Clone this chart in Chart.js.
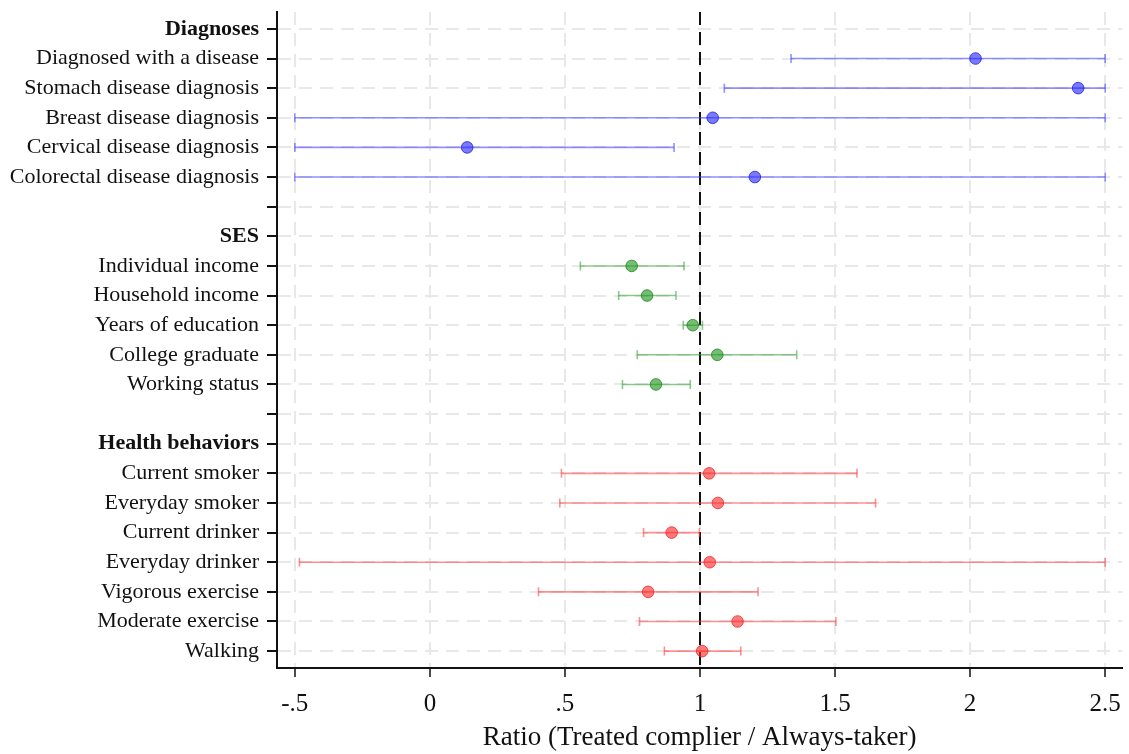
<!DOCTYPE html>
<html>
<head>
<meta charset="utf-8">
<title>Ratio forest plot</title>
<script src="https://cdn.jsdelivr.net/npm/chart.js@4.4.1/dist/chart.umd.min.js"></script>
<style>
  html, body { margin: 0; padding: 0; background: #fff; }
  #box { position: relative; width: 1129px; height: 754px; }
</style>
</head>
<body>
<div id="box"><canvas id="graficoRatio"></canvas></div>
<script>
// ==========================
// DATA
// ==========================
const diagLabels = [
  "Diagnosed with a disease",
  "Stomach disease diagnosis",
  "Breast disease diagnosis",
  "Cervical disease diagnosis",
  "Colorectal disease diagnosis",
];
const diagEst = [2.02, 2.40, 1.047, 0.138, 1.203];
const diagLo = [1.337, 1.09, -0.5, -0.5, -0.5];
const diagHi = [2.5, 2.5, 2.5, 0.904, 2.5];

const sesLabels = [
  "Individual income",
  "Household income",
  "Years of education",
  "College graduate",
  "Working status",
];
const sesEst = [0.747, 0.804, 0.973, 1.064, 0.837];
const sesLo = [0.557, 0.699, 0.938, 0.768, 0.713];
const sesHi = [0.941, 0.911, 1.009, 1.358, 0.964];

const healthLabels = [
  "Current smoker",
  "Everyday smoker",
  "Current drinker",
  "Everyday drinker",
  "Vigorous exercise",
  "Moderate exercise",
  "Walking",
];
const healthEst = [1.034, 1.066, 0.895, 1.036, 0.808, 1.139, 1.008];
const healthLo = [0.487, 0.481, 0.791, -0.483, 0.402, 0.776, 0.868];
const healthHi = [1.581, 1.65, 0.998, 2.5, 1.215, 1.503, 1.151];

const headerLabels = ["Diagnoses", "SES", "Health behaviors"];
const rowLabels = [
  "Diagnoses", ...diagLabels, "",
  "SES", ...sesLabels, "",
  "Health behaviors", ...healthLabels,
];

const xTicks = [-0.5, 0, 0.5, 1, 1.5, 2, 2.5];
const xTickLabels = ["-.5", "0", ".5", "1", "1.5", "2", "2.5"];
const refValue = 1;

// ==========================
// HELPERS
// ==========================
const FONT = "'Liberation Serif', 'Times New Roman', serif";
const Y_MIN = -0.57;
const Y_MAX = rowLabels.length - 1 + 0.57;

function montarGrupo(labels, est, lo, hi, cores) {
  const sets = [];
  labels.forEach((nome, i) => {
    const y = rowLabels.indexOf(nome);
    sets.push({
      type: "scatter",
      data: [{ x: lo[i], y }, { x: hi[i], y }],
      showLine: true,
      borderColor: cores.linha,
      borderWidth: 1.6,
      pointStyle: "line",
      rotation: 90,
      pointRadius: 4.5,
      pointBorderColor: cores.linha,
      pointBorderWidth: 1.6,
      order: 2,
    });
  });
  sets.push({
    type: "scatter",
    data: labels.map((nome, i) => ({ x: est[i], y: rowLabels.indexOf(nome) })),
    pointStyle: "circle",
    pointRadius: 5.8,
    backgroundColor: cores.ponto,
    borderColor: cores.borda,
    borderWidth: 1,
    order: 1,
  });
  return sets;
}

const datasets = [
  {
    type: "scatter",
    data: [{ x: refValue, y: Y_MIN }, { x: refValue, y: Y_MAX }],
    showLine: true,
    borderColor: "#111",
    borderWidth: 2,
    borderDash: [13, 7],
    pointRadius: 0,
    order: 3,
  },
  ...montarGrupo(diagLabels, diagEst, diagLo, diagHi, {
    linha: "rgba(70, 70, 255, 0.6)",
    ponto: "rgba(40, 40, 255, 0.62)",
    borda: "rgba(30, 30, 220, 0.8)",
  }),
  ...montarGrupo(sesLabels, sesEst, sesLo, sesHi, {
    linha: "rgba(60, 165, 60, 0.6)",
    ponto: "rgba(30, 150, 30, 0.62)",
    borda: "rgba(30, 130, 30, 0.8)",
  }),
  ...montarGrupo(healthLabels, healthEst, healthLo, healthHi, {
    linha: "rgba(255, 70, 70, 0.6)",
    ponto: "rgba(255, 40, 40, 0.62)",
    borda: "rgba(235, 40, 40, 0.8)",
  }),
];

// ==========================
// CHART
// ==========================
new Chart(document.getElementById("graficoRatio"), {
  type: "scatter",
  data: { datasets },
  options: {
    responsive: true,
    maintainAspectRatio: false,
    animation: false,
    layout: { padding: { top: 12, right: 6, left: 0, bottom: 0 } },
    plugins: {
      legend: { display: false },
      tooltip: { enabled: false },
    },
    scales: {
      x: {
        type: "linear",
        min: -0.566,
        max: 2.563,
        afterBuildTicks: (scale) => {
          scale.ticks = xTicks.map((v) => ({ value: v }));
        },
        afterFit: (scale) => {
          scale.height = 86;
          scale.paddingLeft = 0;
          scale.paddingRight = 0;
        },
        ticks: {
          autoSkip: false,
          maxRotation: 0,
          padding: 12,
          color: "#111",
          font: { family: FONT, size: 25 },
          callback: (v) => xTickLabels[xTicks.indexOf(v)],
        },
        grid: {
          color: "#e8e8e8",
          lineWidth: 2,
          drawTicks: true,
          tickLength: 9,
          tickColor: "#111",
          tickWidth: 1.5,
        },
        border: { display: true, color: "#111", width: 2, dash: [13, 8] },
        title: {
          display: true,
          text: "Ratio (Treated complier / Always-taker)",
          color: "#111",
          font: { family: FONT, size: 27 },
          padding: { top: 0, bottom: 0 },
        },
      },
      y: {
        type: "linear",
        reverse: true,
        min: Y_MIN,
        max: Y_MAX,
        afterBuildTicks: (scale) => {
          scale.ticks = rowLabels.map((_, i) => ({ value: i }));
        },
        afterFit: (scale) => {
          scale.width = 277;
          scale.paddingTop = 0;
          scale.paddingBottom = 0;
        },
        ticks: {
          autoSkip: false,
          padding: 8,
          color: "#111",
          font: (ctx) => ({
            family: FONT,
            size: 22,
            weight: headerLabels.includes(rowLabels[ctx.tick?.value]) ? "bold" : "normal",
          }),
          callback: (v) => rowLabels[v],
        },
        grid: {
          color: "#e8e8e8",
          lineWidth: 2,
          drawTicks: true,
          tickLength: 10,
          tickColor: "#111",
          tickWidth: 2,
        },
        border: { display: true, color: "#111", width: 2, dash: [13, 8] },
      },
    },
  },
});
</script>
</body>
</html>
